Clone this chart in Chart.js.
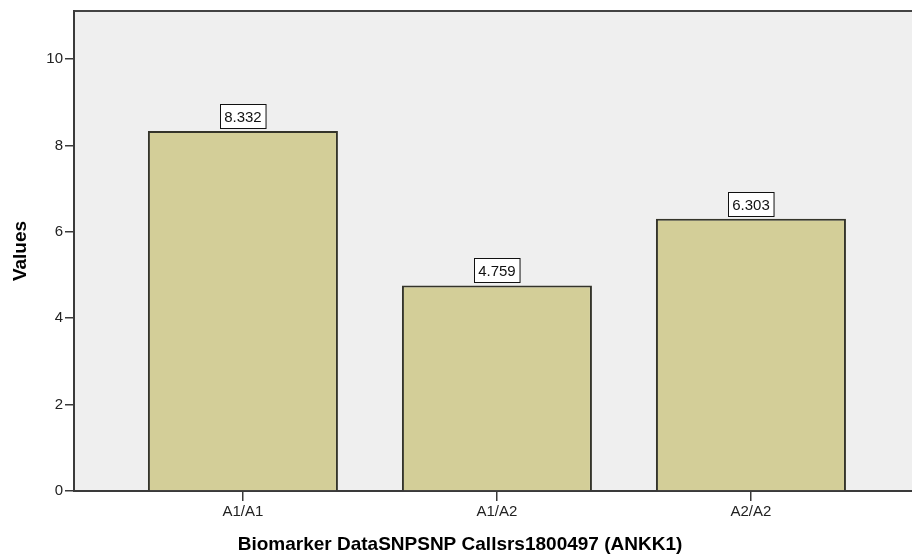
<!DOCTYPE html>
<html>
<head>
<meta charset="utf-8">
<script src="https://cdn.jsdelivr.net/npm/chart.js@4"></script>
<style>
  html, body { margin: 0; padding: 0; background: #fff; }
  #wrap { width: 912px; height: 556px; }
</style>
</head>
<body>
<div id="wrap"><canvas id="chart" width="912" height="556"></canvas></div>
<script>
// datos del gráfico
const categories = ["A1/A1", "A1/A2", "A2/A2"];
const values = [8.332, 4.759, 6.303];
const yTicks = [0, 2, 4, 6, 8, 10];
const xTitle = "Biomarker DataSNPSNP Callsrs1800497 (ANKK1)";
const yTitle = "Values";

const FONT = "'Liberation Sans', Arial, sans-serif";
const axisColor = "#3a3a3a";

// fondo gris del área de trazado y borde superior
const plotBackground = {
  id: "plotBackground",
  beforeDraw(chart) {
    const { ctx, chartArea: a } = chart;
    ctx.save();
    ctx.fillStyle = "#efefef";
    ctx.fillRect(a.left, a.top, a.right - a.left, a.bottom - a.top);
    ctx.strokeStyle = "#444";
    ctx.lineWidth = 2;
    ctx.beginPath();
    ctx.moveTo(a.left, a.top);
    ctx.lineTo(a.right, a.top);
    ctx.stroke();
    ctx.restore();
  },
  // título del eje X centrado en el lienzo (como en SPSS)
  afterDraw(chart) {
    const { ctx } = chart;
    ctx.save();
    ctx.font = "bold 19px " + FONT;
    ctx.fillStyle = "#000";
    ctx.textAlign = "center";
    ctx.textBaseline = "middle";
    ctx.fillText(xTitle, 460, 545);
    ctx.restore();
  }
};

// etiquetas con recuadro blanco encima de cada barra
const valueBoxes = {
  id: "valueBoxes",
  afterDatasetsDraw(chart) {
    const { ctx } = chart;
    const meta = chart.getDatasetMeta(0);
    ctx.save();
    ctx.font = "15px " + FONT;
    ctx.textAlign = "center";
    ctx.textBaseline = "middle";
    meta.data.forEach((bar, i) => {
      const text = values[i].toFixed(3);
      const w = ctx.measureText(text).width + 8;
      const h = 24;
      const x = Math.round(bar.x - w / 2) + 0.5;
      const y = Math.round(bar.y - 3 - h) + 0.5;
      ctx.fillStyle = "#fff";
      ctx.fillRect(x, y, w, h);
      ctx.strokeStyle = "#111";
      ctx.lineWidth = 1;
      ctx.strokeRect(x, y, w, h);
      ctx.fillStyle = "#111";
      ctx.fillText(text, bar.x, y + h / 2 + 1);
    });
    ctx.restore();
  }
};

new Chart(document.getElementById("chart").getContext("2d"), {
  type: "bar",
  data: {
    datasets: [{
      data: values.map((v, i) => ({ x: i, y: v })),
      backgroundColor: "#d3ce98",
      borderColor: "#34342a",
      borderWidth: 2,
      barPercentage: 0.748,
      categoryPercentage: 1
    }]
  },
  options: {
    responsive: false,
    animation: false,
    layout: { padding: { top: 11, right: 0, left: 0, bottom: 0 } },
    plugins: {
      legend: { display: false },
      tooltip: { enabled: false }
    },
    scales: {
      x: {
        type: "linear",
        offset: false,
        min: -0.665,
        max: 2.634,
        afterBuildTicks: s => { s.ticks = categories.map((c, i) => ({ value: i })); },
        afterFit: s => { s.height = 65; },
        ticks: {
          callback: v => categories[v],
          font: { family: FONT, size: 15 },
          color: "#222",
          padding: 2,
          maxRotation: 0,
          autoSkip: false
        },
        grid: { offset: false, drawOnChartArea: false, tickLength: 10, color: axisColor, lineWidth: 1.5 },
        border: { color: axisColor, width: 2 }
      },
      y: {
        min: 0,
        max: 11.11,
        afterBuildTicks: s => { s.ticks = yTicks.map(v => ({ value: v })); },
        afterFit: s => { s.width = 74; },
        ticks: {
          font: { family: FONT, size: 15 },
          color: "#222",
          padding: 2
        },
        grid: { drawOnChartArea: false, tickLength: 9, color: axisColor, lineWidth: 1.5 },
        border: { color: axisColor, width: 2 },
        title: {
          display: true,
          text: yTitle,
          font: { family: FONT, size: 19, weight: "bold" },
          color: "#000",
          padding: { top: 9, bottom: 0 }
        }
      }
    }
  },
  plugins: [plotBackground, valueBoxes]
});
</script>
</body>
</html>
